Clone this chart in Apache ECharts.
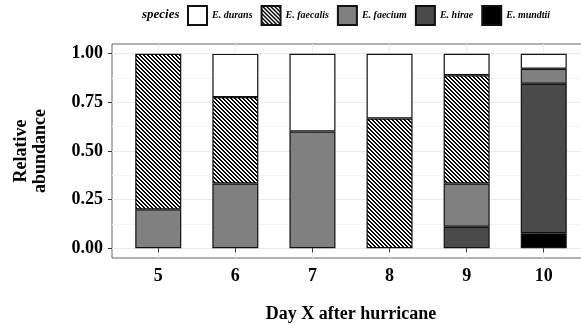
<!DOCTYPE html>
<html><head><meta charset="utf-8">
<script src="https://cdn.jsdelivr.net/npm/echarts@6/dist/echarts.min.js"></script>
<style>html,body{margin:0;padding:0;background:#fff}#c{width:581px;height:325px}</style>
</head><body><div id="c"></div>
<script>
// ---- data ----
const days = [5, 6, 7, 8, 9, 10];
const yTicks = [0, 0.25, 0.5, 0.75, 1.0];
const yMinor = [0.125, 0.375, 0.625, 0.875];
const speciesOrder = ['E. durans', 'E. faecalis', 'E. faecium', 'E. hirae', 'E. mundtii'];
const durans   = [null, 0.222, 0.400, 0.333, 0.111, 0.077];
const faecalis = [0.800, 0.444, null, 0.667, 0.556, null];
const faecium  = [0.200, 0.333, 0.600, null, 0.222, 0.077];
const hirae    = [null, null, null, null, 0.111, 0.769];
const mundtii  = [null, null, null, null, null, 0.077];

// hatch pattern for E. faecalis
function hatch() {
  const c = document.createElement('canvas');
  c.width = 4; c.height = 4;
  const ctx = c.getContext('2d');
  ctx.fillStyle = '#fff'; ctx.fillRect(0, 0, 4, 4);
  ctx.fillStyle = '#000';
  for (let y = 0; y < 4; y++) for (let x = 0; x < 4; x++) {
    if ((((x - y) % 4) + 4) % 4 < 2) ctx.fillRect(x, y, 1, 1);
  }
  return { image: c, repeat: 'repeat' };
}

const font = 'Liberation Serif';
// value first (column 0 -> y, stacked), day second (column 1 -> x)
const toData = arr => days.map((d, i) => [arr[i] == null ? '-' : arr[i], d]);
function mk(name, arr, color) {
  return {
    name, type: 'bar', stack: 'all', barWidth: 46, data: toData(arr),
    encode: { x: 1, y: 0 },
    itemStyle: { color, borderColor: '#111', borderWidth: 1.2 },
    emphasis: { disabled: true }, animation: false
  };
}

const chart = echarts.init(document.getElementById('c'), null, { renderer: 'canvas' });
chart.setOption({
  backgroundColor: '#fff',
  animation: false,
  title: {
    text: 'species', left: 142, top: 8, padding: 0,
    textStyle: { fontFamily: font, fontSize: 13, fontWeight: 'bold', fontStyle: 'italic', color: '#000' }
  },
  legend: {
    data: speciesOrder, left: 187, top: 5, padding: 0, icon: 'rect',
    itemWidth: 19, itemHeight: 19, itemGap: 8, selectedMode: false,
    textStyle: { fontFamily: font, fontSize: 10, fontWeight: 'bold', fontStyle: 'italic', color: '#000' }
  },
  grid: { left: 112, top: 44, bottom: 67, right: -9, show: true, borderColor: '#666', borderWidth: 1,
          outerBoundsMode: 'none', containLabel: false },
  xAxis: {
    type: 'value', min: 4.4, max: 10.6,
    name: 'Day X after hurricane', nameLocation: 'middle', nameGap: 47,
    nameTextStyle: { fontFamily: font, fontSize: 18, fontWeight: 'bold', color: '#000' },
    axisLine: { show: false },
    axisTick: { show: true, length: 4, customValues: days, lineStyle: { color: '#333' } },
    axisLabel: { customValues: days, margin: 9, fontFamily: font, fontSize: 18, fontWeight: 'bold', color: '#000' },
    splitLine: { show: true, lineStyle: { color: '#ebebeb', width: 1 } }
  },
  yAxis: [{
    type: 'value', min: -0.05, max: 1.05,
    name: 'Relative\nabundance', nameLocation: 'middle', nameGap: 62, nameRotate: 90,
    nameTextStyle: { fontFamily: font, fontSize: 18, fontWeight: 'bold', color: '#000', lineHeight: 19 },
    axisLine: { show: false },
    axisTick: { show: true, length: 4, customValues: yTicks, lineStyle: { color: '#333' } },
    axisLabel: { customValues: yTicks, margin: 9, formatter: v => v.toFixed(2),
                 fontFamily: font, fontSize: 18, fontWeight: 'bold', color: '#000' },
    splitLine: { show: true, lineStyle: { color: '#ebebeb', width: 1 } }
  }, {
    type: 'value', min: -0.05, max: 1.05, position: 'left',
    axisLine: { show: false }, axisLabel: { show: false },
    axisTick: { show: false, customValues: yMinor },
    splitLine: { show: true, lineStyle: { color: '#f4f4f4', width: 1 } }
  }],
  series: [
    mk('E. mundtii', mundtii, '#000000'),
    mk('E. hirae', hirae, '#4a4a4a'),
    mk('E. faecium', faecium, '#808080'),
    mk('E. faecalis', faecalis, hatch()),
    mk('E. durans', durans, '#ffffff')
  ]
});
</script></body></html>
